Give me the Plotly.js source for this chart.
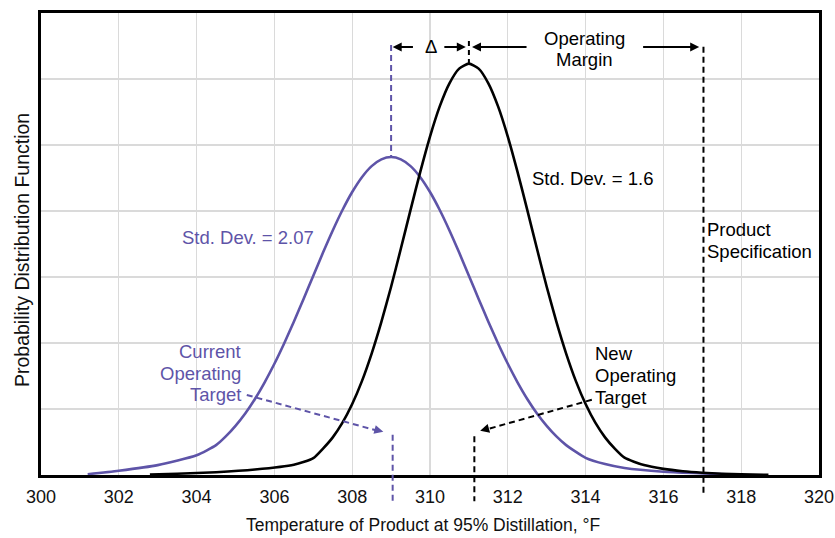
<!DOCTYPE html>
<html>
<head>
<meta charset="utf-8">
<script src="https://cdn.plot.ly/plotly-3.0.1.min.js"></script>
<style>html,body{margin:0;padding:0;background:#fff;}#chart{width:835px;height:538px;}</style>
</head>
<body>
<div id="chart"></div>
<script>
// Current operating distribution (std. dev. = 2.07)
const currentX = [301.2, 302, 303, 304, 304.5, 304.75, 305, 305.25, 305.5, 305.75, 306, 306.25, 306.5, 306.75, 307, 307.25, 307.5, 307.75, 308, 308.25, 308.5, 308.75, 309, 309.25, 309.5, 309.75, 310, 310.25, 310.5, 310.75, 311, 311.25, 311.5, 311.75, 312, 312.25, 312.5, 312.75, 313, 313.25, 313.5, 314, 314.5, 315, 316, 317, 317.6];
const currentY = [0.0005, 0.0026, 0.0060, 0.0120, 0.0181, 0.0234, 0.0298, 0.0373, 0.0461, 0.0562, 0.0674, 0.0797, 0.0929, 0.1067, 0.1208, 0.1348, 0.1482, 0.1606, 0.1715, 0.1805, 0.1872, 0.1913, 0.1927, 0.1913, 0.1872, 0.1805, 0.1715, 0.1606, 0.1482, 0.1348, 0.1208, 0.1067, 0.0929, 0.0797, 0.0674, 0.0562, 0.0461, 0.0373, 0.0298, 0.0234, 0.0181, 0.0104, 0.0066, 0.0042, 0.0020, 0.0010, 0.0004];

// New operating distribution (std. dev. = 1.6)
const newX = [302.8, 303.5, 304.5, 305.5, 306.5, 307, 307.25, 307.5, 307.75, 308, 308.25, 308.5, 308.75, 309, 309.25, 309.5, 309.75, 310, 310.25, 310.5, 310.75, 311, 311.25, 311.5, 311.75, 312, 312.25, 312.5, 312.75, 313, 313.25, 313.5, 313.75, 314, 314.25, 314.5, 314.75, 315, 315.5, 316, 316.5, 317, 317.5, 318, 318.7];
const newY = [0.0002, 0.0008, 0.0017, 0.0033, 0.0062, 0.0102, 0.0160, 0.0228, 0.0317, 0.0430, 0.0569, 0.0736, 0.0928, 0.1141, 0.1371, 0.1607, 0.1837, 0.2051, 0.2234, 0.2374, 0.2463, 0.2493, 0.2463, 0.2374, 0.2234, 0.2051, 0.1837, 0.1607, 0.1371, 0.1141, 0.0928, 0.0736, 0.0569, 0.0430, 0.0317, 0.0228, 0.0160, 0.0105, 0.0060, 0.0037, 0.0023, 0.0014, 0.0008, 0.0004, 0.0001];

const xTicks = [300, 302, 304, 306, 308, 310, 312, 314, 316, 318, 320];
const xTickText = ['300', '302', '304', '306', '308', '310', '312', '314', '316', '318', '320'];

const currentTarget = 309;
const newTarget = 311;
const productSpec = 317.03;

const PURPLE = '#5E54A8';
const FONT = 'Liberation Sans, Arial, Helvetica, sans-serif';
const LBL = 18.5;

const traces = [
  {x: currentX, y: currentY, type: 'scatter', mode: 'lines', line: {color: PURPLE, width: 2.6, shape: 'spline', smoothing: 0.6}, hoverinfo: 'skip'},
  {x: newX, y: newY, type: 'scatter', mode: 'lines', line: {color: '#000', width: 2.6, shape: 'spline', smoothing: 0.6}, hoverinfo: 'skip'}
];

const dash = '6px,4px';
const shapes = [
  {type: 'line', xref: 'x', yref: 'y', x0: currentTarget, x1: currentTarget, y0: 0.2606, y1: 0.1927, line: {color: PURPLE, width: 2, dash: dash}},
  {type: 'line', xref: 'x', yref: 'paper', x0: currentTarget + 0.04, x1: currentTarget + 0.04, y0: 0.087, y1: -0.061, line: {color: PURPLE, width: 2, dash: dash}},
  {type: 'line', xref: 'x', yref: 'y', x0: newTarget, x1: newTarget, y0: 0.2630, y1: 0.2493, line: {color: '#000', width: 2, dash: '5px,4px'}},
  {type: 'line', xref: 'x', yref: 'paper', x0: newTarget + 0.14, x1: newTarget + 0.14, y0: 0.084, y1: -0.057, line: {color: '#000', width: 2, dash: dash}},
  {type: 'line', xref: 'x', yref: 'paper', x0: productSpec, x1: productSpec, y0: 0.927, y1: -0.045, line: {color: '#000', width: 2, dash: dash}},
  {type: 'line', xref: 'x', yref: 'y', x0: 305.29, y0: 0.0485, x1: 308.66, y1: 0.0268, line: {color: PURPLE, width: 2, dash: dash}},
  {type: 'line', xref: 'x', yref: 'y', x0: 314.16, y0: 0.0456, x1: 311.43, y1: 0.0275, line: {color: '#000', width: 2, dash: dash}}
];

function arrow(x0, y0, x1, y1, color) {
  return {x: x1, y: y1, xref: 'x', yref: 'y', ax: x0, ay: y0, axref: 'x', ayref: 'y', text: '', showarrow: true,
          arrowhead: 2, arrowsize: 1, arrowwidth: 1.8, arrowcolor: color, standoff: 0, startstandoff: 0};
}
function head(x, y, ax, ay, color) {
  return {x: x, y: y, xref: 'x', yref: 'y', ax: ax, ay: ay, text: '', showarrow: true,
          arrowhead: 2, arrowsize: 1, arrowwidth: 1.8, arrowcolor: color, standoff: 0};
}
function label(text, x, y, xanchor, color) {
  return {x: x, y: y, xref: 'x', yref: 'y', text: text, showarrow: false, xanchor: xanchor, yanchor: 'middle',
          font: {family: FONT, size: LBL, color: color}};
}

const annotations = [
  arrow(309.60, 0.2594, 309.04, 0.2594, '#000'),
  arrow(310.33, 0.2594, 310.92, 0.2594, '#000'),
  arrow(312.52, 0.2594, 311.08, 0.2594, '#000'),
  arrow(315.44, 0.2594, 316.92, 0.2594, '#000'),
  label('Δ', 310.03, 0.2594, 'center', '#000'),
  label('Operating', 313.98, 0.2648, 'center', '#000'),
  label('Margin', 313.98, 0.2521, 'center', '#000'),
  label('Std. Dev. = 1.6', 312.56, 0.1794, 'left', '#000'),
  label('Std. Dev. = 2.07', 307.08, 0.1442, 'right', PURPLE),
  label('Product', 317.06, 0.1485, 'left', '#000'),
  label('Specification', 317.06, 0.1352, 'left', '#000'),
  label('Current', 305.18, 0.0747, 'right', PURPLE),
  label('Operating', 305.18, 0.0616, 'right', PURPLE),
  label('Target', 305.18, 0.0485, 'right', PURPLE),
  label('New', 314.20, 0.0739, 'left', '#000'),
  label('Operating', 314.20, 0.0604, 'left', '#000'),
  label('Target', 314.20, 0.0471, 'left', '#000'),
  head(308.80, 0.0262, -6.5, -1.7, PURPLE),
  head(311.29, 0.0268, 6.5, -1.8, '#000'),
  {x: 0.4904, y: -0.108, xref: 'paper', yref: 'paper', text: 'Temperature of Product at 95% Distillation, °F', showarrow: false,
   xanchor: 'center', yanchor: 'middle', font: {family: FONT, size: 17.5, color: '#111'}},
  {x: -0.0244, y: 0.487, xref: 'paper', yref: 'paper', text: 'Probability Distribution Function', showarrow: false, textangle: -90,
   xanchor: 'center', yanchor: 'middle', font: {family: FONT, size: 19.5, color: '#111'}}
];

const layout = {
  width: 835, height: 538,
  margin: {l: 41, r: 16, t: 13, b: 63, pad: 0},
  paper_bgcolor: '#fff', plot_bgcolor: '#fff',
  showlegend: false,
  font: {family: FONT, size: 18, color: '#000'},
  xaxis: {
    range: [300, 320], tickvals: xTicks, ticktext: xTickText,
    showgrid: true, gridcolor: '#dadada', gridwidth: 1.2, zeroline: false,
    showline: true, mirror: true, linecolor: '#000', linewidth: 3,
    ticks: '', ticklabelstandoff: 3,
    tickfont: {family: FONT, size: 18, color: '#111'}
  },
  yaxis: {
    range: [0, 0.28], dtick: 0.04, tick0: 0,
    showgrid: true, gridcolor: '#dadada', gridwidth: 1.2, zeroline: false,
    showline: true, mirror: true, linecolor: '#000', linewidth: 3,
    showticklabels: false, ticks: ''
  },
  shapes: shapes,
  annotations: annotations
};

Plotly.newPlot('chart', traces, layout, {staticPlot: true, displayModeBar: false});
</script>
</body>
</html>
